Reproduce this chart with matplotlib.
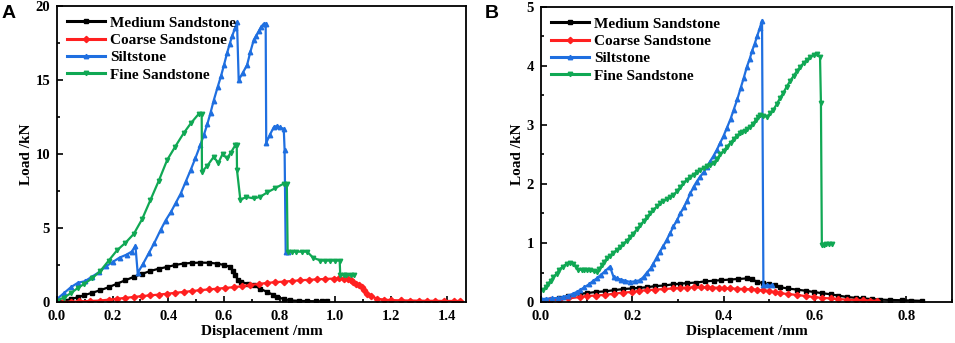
import matplotlib
matplotlib.use("Agg")
import matplotlib.pyplot as plt
from matplotlib.ticker import MultipleLocator

# ---------------- Panel A data ----------------
a_med_x = [0.0, 0.03, 0.05, 0.075, 0.096, 0.126, 0.156, 0.186, 0.216, 0.246, 0.276, 0.306, 0.336, 0.366, 0.396, 0.425, 0.455, 0.485, 0.515, 0.545, 0.575, 0.6, 0.623, 0.632, 0.641, 0.65, 0.66, 0.685, 0.707, 0.73, 0.755, 0.775, 0.791, 0.815, 0.839, 0.87, 0.9, 0.93, 0.953, 0.97]
a_med_y = [0.0, 0.1, 0.2, 0.32, 0.45, 0.62, 0.8, 1.0, 1.24, 1.47, 1.7, 1.9, 2.1, 2.25, 2.37, 2.5, 2.6, 2.64, 2.66, 2.65, 2.6, 2.5, 2.37, 2.1, 1.8, 1.5, 1.35, 1.25, 1.13, 0.9, 0.68, 0.5, 0.34, 0.2, 0.11, 0.08, 0.06, 0.05, 0.05, 0.05]

a_coarse_x = [0.02, 0.05, 0.08, 0.12, 0.156, 0.186, 0.216, 0.246, 0.276, 0.306, 0.336, 0.366, 0.396, 0.425, 0.455, 0.485, 0.515, 0.545, 0.575, 0.605, 0.635, 0.665, 0.695, 0.725, 0.755, 0.785, 0.815, 0.845, 0.875, 0.905, 0.935, 0.965, 0.995, 1.015, 1.03, 1.045, 1.055, 1.065, 1.075, 1.085, 1.095, 1.105, 1.115, 1.13, 1.15, 1.175, 1.2, 1.235, 1.27, 1.3, 1.33, 1.36, 1.39, 1.427, 1.45]
a_coarse_y = [0.0, 0.02, 0.04, 0.07, 0.1, 0.16, 0.22, 0.28, 0.34, 0.4, 0.45, 0.5, 0.56, 0.62, 0.68, 0.74, 0.8, 0.85, 0.9, 0.95, 1.0, 1.07, 1.15, 1.22, 1.29, 1.34, 1.38, 1.42, 1.47, 1.5, 1.53, 1.56, 1.58, 1.59, 1.58, 1.53, 1.47, 1.38, 1.25, 1.12, 1.0, 0.78, 0.56, 0.38, 0.23, 0.16, 0.13, 0.11, 0.1, 0.09, 0.08, 0.08, 0.07, 0.07, 0.07]

a_silt_x = [0.0, 0.025, 0.05, 0.075, 0.1, 0.125, 0.15, 0.175, 0.2, 0.225, 0.25, 0.268, 0.282, 0.29, 0.31, 0.33, 0.35, 0.372, 0.39, 0.41, 0.427, 0.444, 0.462, 0.48, 0.497, 0.515, 0.528, 0.54, 0.552, 0.563, 0.577, 0.59, 0.6, 0.611, 0.62, 0.63, 0.64, 0.647, 0.653, 0.668, 0.683, 0.695, 0.707, 0.716, 0.725, 0.734, 0.743, 0.75, 0.752, 0.765, 0.779, 0.79, 0.8, 0.815, 0.818, 0.822, 0.83]
a_silt_y = [0.2, 0.6, 1.0, 1.3, 1.4, 1.7, 2.0, 2.4, 2.7, 3.0, 3.2, 3.4, 3.77, 1.96, 2.6, 3.3, 4.0, 4.85, 5.5, 6.1, 6.7, 7.3, 8.1, 8.9, 9.7, 10.6, 11.3, 12.0, 12.8, 13.6, 14.5, 15.3, 16.0, 16.8, 17.4, 18.0, 18.5, 18.9, 15.0, 15.5, 16.0, 16.9, 17.7, 18.0, 18.3, 18.6, 18.8, 18.8, 10.75, 11.3, 11.8, 11.9, 11.8, 11.7, 10.3, 3.38, 3.4]

a_fine_x = [0.0, 0.025, 0.05, 0.075, 0.096, 0.126, 0.156, 0.186, 0.216, 0.246, 0.276, 0.306, 0.336, 0.366, 0.396, 0.425, 0.455, 0.482, 0.509, 0.52, 0.521, 0.54, 0.563, 0.58, 0.595, 0.611, 0.625, 0.641, 0.646, 0.647, 0.659, 0.68, 0.707, 0.73, 0.755, 0.785, 0.815, 0.826, 0.829, 0.845, 0.86, 0.88, 0.899, 0.92, 0.947, 0.965, 0.98, 1.0, 1.016, 1.018, 1.03, 1.04, 1.055, 1.067]
a_fine_y = [0.1, 0.3, 0.6, 0.95, 1.2, 1.6, 2.1, 2.8, 3.5, 4.0, 4.6, 5.6, 6.9, 8.2, 9.6, 10.5, 11.4, 12.1, 12.7, 12.7, 8.8, 9.2, 9.8, 9.4, 10.0, 9.7, 10.1, 10.6, 10.6, 8.9, 6.9, 7.1, 7.0, 7.1, 7.4, 7.7, 8.0, 8.0, 3.4, 3.4, 3.4, 3.4, 3.4, 3.0, 2.8, 2.8, 2.8, 2.8, 2.8, 1.8, 1.8, 1.8, 1.8, 1.8]

# ---------------- Panel B data ----------------
b_med_x = [0.0, 0.02, 0.04, 0.06, 0.085, 0.1, 0.12, 0.14, 0.159, 0.18, 0.2, 0.215, 0.232, 0.25, 0.27, 0.29, 0.305, 0.32, 0.34, 0.36, 0.378, 0.395, 0.414, 0.432, 0.451, 0.462, 0.473, 0.487, 0.5, 0.512, 0.524, 0.54, 0.56, 0.58, 0.597, 0.615, 0.635, 0.65, 0.67, 0.69, 0.705, 0.725, 0.743, 0.765, 0.79, 0.81, 0.834]
b_med_y = [0.02, 0.04, 0.07, 0.1, 0.14, 0.15, 0.17, 0.18, 0.2, 0.22, 0.23, 0.24, 0.25, 0.27, 0.28, 0.3, 0.31, 0.32, 0.33, 0.35, 0.36, 0.37, 0.38, 0.39, 0.4, 0.39, 0.34, 0.32, 0.3, 0.28, 0.25, 0.23, 0.21, 0.19, 0.17, 0.15, 0.13, 0.11, 0.085, 0.07, 0.06, 0.05, 0.04, 0.035, 0.03, 0.025, 0.02]

b_coarse_x = [0.0, 0.02, 0.04, 0.06, 0.085, 0.1, 0.12, 0.14, 0.159, 0.18, 0.2, 0.215, 0.232, 0.25, 0.27, 0.29, 0.305, 0.32, 0.335, 0.35, 0.363, 0.375, 0.39, 0.4, 0.414, 0.43, 0.445, 0.46, 0.473, 0.487, 0.5, 0.512, 0.524, 0.54, 0.56, 0.58, 0.597, 0.615, 0.635, 0.65, 0.67, 0.69, 0.705, 0.72, 0.736]
b_coarse_y = [0.02, 0.03, 0.04, 0.06, 0.085, 0.1, 0.11, 0.12, 0.14, 0.16, 0.17, 0.19, 0.2, 0.21, 0.22, 0.23, 0.24, 0.245, 0.25, 0.25, 0.25, 0.245, 0.24, 0.235, 0.23, 0.225, 0.22, 0.215, 0.21, 0.195, 0.18, 0.165, 0.15, 0.135, 0.12, 0.1, 0.085, 0.07, 0.06, 0.05, 0.04, 0.035, 0.03, 0.025, 0.02]

b_silt_x = [0.0, 0.012, 0.025, 0.037, 0.049, 0.06, 0.07, 0.078, 0.085, 0.095, 0.105, 0.113, 0.122, 0.131, 0.14, 0.151, 0.159, 0.167, 0.175, 0.185, 0.195, 0.205, 0.217, 0.225, 0.232, 0.24, 0.246, 0.253, 0.26, 0.268, 0.275, 0.283, 0.29, 0.298, 0.305, 0.313, 0.32, 0.327, 0.334, 0.341, 0.348, 0.356, 0.363, 0.37, 0.378, 0.385, 0.392, 0.4, 0.407, 0.415, 0.422, 0.43, 0.437, 0.444, 0.451, 0.457, 0.462, 0.468, 0.473, 0.479, 0.484, 0.487, 0.495, 0.506]
b_silt_y = [0.05, 0.055, 0.06, 0.07, 0.085, 0.11, 0.14, 0.17, 0.2, 0.25, 0.3, 0.35, 0.4, 0.46, 0.52, 0.6, 0.42, 0.4, 0.38, 0.36, 0.34, 0.35, 0.37, 0.43, 0.5, 0.57, 0.65, 0.75, 0.85, 0.95, 1.05, 1.17, 1.28, 1.39, 1.5, 1.61, 1.72, 1.84, 1.95, 2.04, 2.12, 2.2, 2.29, 2.38, 2.48, 2.58, 2.69, 2.82, 2.95, 3.1, 3.26, 3.44, 3.62, 3.8, 3.99, 4.12, 4.25, 4.38, 4.5, 4.64, 4.77, 0.28, 0.28, 0.28]

b_fine_x = [0.005, 0.01, 0.015, 0.021, 0.027, 0.034, 0.04, 0.048, 0.056, 0.064, 0.071, 0.077, 0.082, 0.089, 0.095, 0.101, 0.107, 0.115, 0.122, 0.128, 0.133, 0.139, 0.144, 0.151, 0.158, 0.166, 0.173, 0.18, 0.188, 0.195, 0.202, 0.21, 0.217, 0.225, 0.232, 0.239, 0.246, 0.254, 0.261, 0.268, 0.275, 0.283, 0.29, 0.298, 0.305, 0.312, 0.319, 0.327, 0.334, 0.341, 0.348, 0.356, 0.363, 0.37, 0.378, 0.385, 0.392, 0.4, 0.407, 0.415, 0.422, 0.429, 0.436, 0.441, 0.447, 0.452, 0.458, 0.464, 0.47, 0.475, 0.48, 0.487, 0.495, 0.502, 0.509, 0.516, 0.523, 0.531, 0.538, 0.545, 0.553, 0.56, 0.568, 0.575, 0.582, 0.59, 0.597, 0.604, 0.611, 0.613, 0.615, 0.62, 0.625, 0.631, 0.637]
b_fine_y = [0.2, 0.25, 0.3, 0.36, 0.42, 0.48, 0.55, 0.6, 0.65, 0.66, 0.65, 0.6, 0.54, 0.55, 0.55, 0.54, 0.54, 0.52, 0.51, 0.56, 0.62, 0.68, 0.74, 0.78, 0.83, 0.88, 0.93, 0.98, 1.04, 1.1, 1.16, 1.23, 1.3, 1.37, 1.44, 1.5, 1.56, 1.62, 1.67, 1.71, 1.74, 1.78, 1.81, 1.88, 1.95, 2.01, 2.07, 2.12, 2.16, 2.2, 2.24, 2.27, 2.3, 2.32, 2.35, 2.42, 2.5, 2.56, 2.63, 2.7, 2.76, 2.82, 2.86, 2.88, 2.9, 2.93, 2.97, 3.02, 3.08, 3.13, 3.17, 3.15, 3.14, 3.2, 3.26, 3.35, 3.45, 3.55, 3.65, 3.74, 3.83, 3.91, 3.99, 4.05, 4.1, 4.15, 4.19, 4.2, 4.16, 3.37, 0.96, 0.97, 0.99, 0.98, 0.99]

labels = ["Medium Sandstone", "Coarse Sandstone", "Siltstone", "Fine Sandstone"]

colors = ["#000000", "#ff2020", "#1f6fe0", "#10a854"]
markers = ["s", "D", "^", "v"]

serif = ["Liberation Serif", "DejaVu Serif"]
plt.rcParams["font.family"] = serif
plt.rcParams["font.weight"] = "bold"

fig = plt.figure(figsize=(9.55, 3.43), dpi=100)
axA = fig.add_axes([57 / 955, 1 - 302 / 343, (466 - 57) / 955, (302 - 6) / 343])
axB = fig.add_axes([541 / 955, 1 - 302 / 343, (952 - 541) / 955, (302 - 7) / 343])

panelA = [(a_med_x, a_med_y), (a_coarse_x, a_coarse_y), (a_silt_x, a_silt_y), (a_fine_x, a_fine_y)]
panelB = [(b_med_x, b_med_y), (b_coarse_x, b_coarse_y), (b_silt_x, b_silt_y), (b_fine_x, b_fine_y)]

for ax, data in ((axA, panelA), (axB, panelB)):
    for (x, y), c, m, lab in zip(data, colors, markers, labels):
        ax.plot(x, y, color=c, lw=1.6, marker=m, ms=3.2, mec=c, mfc=c, label=lab)
    ax.tick_params(which="both", direction="in", top=False, right=False, labelsize=10.5, width=1.2)
    ax.tick_params(which="major", length=4)
    ax.tick_params(which="minor", length=2)
    ax.tick_params(axis="x", pad=6)
    ax.tick_params(axis="y", pad=5)
    for s in ax.spines.values():
        s.set_linewidth(1.3)
    ax.set_xlabel("Displacement /mm", fontsize=11, fontweight="bold", labelpad=1)
    ax.set_ylabel("Load /kN", fontsize=11, fontweight="bold", labelpad=2)
    leg = ax.legend(loc="upper left", frameon=False, handlelength=2.5,
                    handletextpad=0.3, labelspacing=0.24, borderaxespad=0.25,
                    prop={"family": serif, "weight": "bold", "size": 11})
    for lh in leg.get_lines():
        lh.set_linewidth(2.2)

axA.set_xlim(0, 1.47)
axA.set_ylim(0, 20)
axA.xaxis.set_major_locator(MultipleLocator(0.2))
axA.xaxis.set_minor_locator(MultipleLocator(0.1))
axA.yaxis.set_major_locator(MultipleLocator(5))
axA.yaxis.set_minor_locator(MultipleLocator(2.5))

axB.set_xlim(0, 0.9)
axB.set_ylim(0, 5)
axB.xaxis.set_major_locator(MultipleLocator(0.2))
axB.xaxis.set_minor_locator(MultipleLocator(0.1))
axB.yaxis.set_major_locator(MultipleLocator(1))
axB.yaxis.set_minor_locator(MultipleLocator(0.5))

fig.text(2 / 955, 1 - 14 / 343, "A", fontsize=14, fontweight="bold", family=["Liberation Sans", "DejaVu Sans"], va="center")
fig.text(485 / 955, 1 - 14 / 343, "B", fontsize=14, fontweight="bold", family=["Liberation Sans", "DejaVu Sans"], va="center")

fig.savefig("out.png", dpi=100)
